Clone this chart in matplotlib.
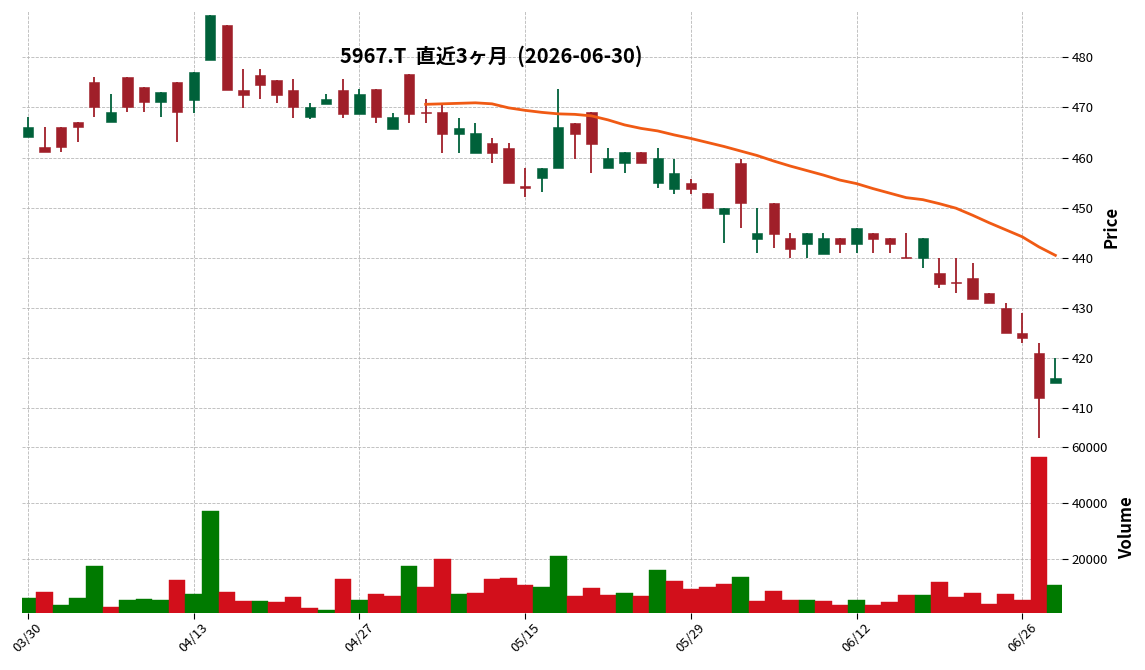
import matplotlib
matplotlib.use("Agg")
import matplotlib.pyplot as plt
import numpy as np

plt.rcParams['font.family'] = ['Noto Sans CJK JP', 'DejaVu Sans']

# ---- data ----
opens = [464, 462, 466, 467, 475, 467, 476, 474, 471, 475,
         471.5, 479.5, 486.5, 473.5, 476.5, 475.5, 473.5, 468, 470.7, 473.5,
         468.7, 473.6, 465.7, 476.6, 469, 469, 464.7, 460.8, 462.9, 461.9,
         454.2, 456, 458, 466.9, 469, 458, 459, 461, 455, 453.8,
         455, 453, 448.8, 458.9, 443.8, 451, 444, 442.8, 440.8, 444,
         442.8, 445, 444, 440.2, 440, 437, 435.2, 436, 433, 430,
         425, 421, 415]
highs = [468, 466, 466, 467, 476, 472.6, 476, 474, 473, 475,
         477, 488.5, 486.5, 477.6, 477.6, 475.5, 475.6, 470.8, 472.6, 475.6,
         473.6, 473.6, 468.8, 476.6, 471.6, 470.8, 467.8, 466.8, 463.8, 462.8,
         458, 458, 473.6, 466.9, 469, 461.8, 461, 461, 461.8, 459.8,
         455.8, 453, 450, 459.8, 449.9, 451, 444.9, 445, 444.9, 444,
         446, 445, 444, 444.9, 444, 440, 440, 439, 433, 431,
         429, 423, 420]
lows = [464, 461, 461, 463, 468, 467, 469, 469, 468, 463,
        468.8, 479.5, 473.5, 469.8, 471.6, 470.8, 467.8, 467.7, 470.7, 467.8,
        468.7, 466.8, 465.7, 466.8, 466.8, 460.8, 460.8, 460.8, 459, 455,
        452.1, 453.1, 458, 459.8, 457, 458, 457, 459, 454, 452.8,
        452.8, 450, 443, 445.9, 440.9, 441.9, 440, 440, 440.8, 440.9,
        440.9, 440.9, 440.9, 440, 438, 433.9, 433, 431.8, 431, 425,
        423, 404, 415]
closes = [466, 461, 462, 466, 470, 469, 470, 471, 473, 469,
          477, 488.5, 473.5, 472.5, 474.5, 472.5, 470, 470, 471.7, 468.7,
          472.6, 468, 468, 468.7, 468.8, 464.7, 465.9, 464.9, 460.8, 455,
          454, 458, 466, 464.7, 462.7, 460, 461, 459, 460, 456.9,
          453.8, 450, 450, 451, 445, 444.8, 441.8, 445, 444, 442.8,
          446, 443.8, 442.8, 440, 444, 434.8, 435, 431.8, 431, 425,
          424, 412, 416]
volumes = [6200, 8300, 3700, 6200, 17600, 3000, 5500, 5800, 5500, 12600,
           7600, 37100, 8300, 5100, 5100, 4700, 6500, 2600, 1900, 12900,
           5500, 7600, 6900, 17600, 10100, 20000, 7600, 7900, 12900, 13300,
           10800, 10100, 21100, 6900, 9700, 7200, 7900, 6900, 16100, 12200,
           9400, 10100, 11200, 13600, 5100, 8700, 5500, 5500, 5100, 3700,
           5500, 3700, 4700, 7200, 7200, 11900, 6500, 7900, 4000, 7600,
           5500, 56300, 10800]
# volume bar direction as drawn (G = up vs previous close, R = down)
vol_dir = list("GRGGGRGGGRGGRRGRRRGRGRRGRRGRRRRGG"
               "RRRGRGRRRR" "GRRRGRRGRR" "RGRRRRRRRG")
# 25-day moving average, visible from index 24
ma_start = 24
ma_values = [470.6, 470.7, 470.8, 470.9, 470.7, 469.9, 469.4, 469.0, 468.7, 468.6,
             468.3, 467.5, 466.5, 465.8, 465.3, 464.5, 463.8, 463.0, 462.2, 461.3,
             460.4, 459.3, 458.3, 457.4, 456.5, 455.5, 454.8, 453.8, 452.9, 452.0,
             451.6, 450.8, 449.9, 448.5, 447.0, 445.6, 444.2, 442.2, 440.5]
tick_idx = [0, 10, 20, 30, 40, 50, 60]
tick_labels = ["03/30", "04/13", "04/27", "05/15", "05/29", "06/12", "06/26"]
price_ticks = [410, 420, 430, 440, 450, 460, 470, 480]
volume_ticks = [20000, 40000, 60000]
title = "5967.T  直近3ヶ月  (2026-06-30)"

# ---- styling ----
UP = "#00613A"
DOWN = "#A01F29"
VUP = "#007A00"
VDOWN = "#D20F1B"
MA_COLOR = "#F05A14"
GRID = dict(color="#b8b8b8", linestyle="--", linewidth=0.6)

W, H = 1145, 670
fig = plt.figure(figsize=(W / 100, H / 100), dpi=100)
left, right = 22, 1062
ax = fig.add_axes([left / W, (H - 443) / H, (right - left) / W, (443 - 11) / H])
axv = fig.add_axes([left / W, (H - 613) / H, (right - left) / W, (613 - 443) / H], sharex=ax)

n = len(opens)
x = np.arange(n)
o = np.array(opens); c = np.array(closes); hi = np.array(highs); lo = np.array(lows)
up = c >= o
colors = np.where(up, UP, DOWN)

ax.vlines(x, lo, hi, colors=colors, linewidth=1.3, zorder=2)
body_h = np.maximum(np.abs(c - o), 0.25)
body_b = np.minimum(o, c)
ax.bar(x, body_h, bottom=body_b, width=0.62, color=colors, edgecolor=colors,
       linewidth=0.4, zorder=3)
ma_x = np.arange(ma_start, ma_start + len(ma_values))
ax.plot(ma_x, ma_values, color=MA_COLOR, linewidth=2.0, zorder=4)

vcolors = [VUP if d == "G" else VDOWN for d in vol_dir]
axv.bar(x, volumes, width=1.0, color=vcolors, edgecolor=vcolors, linewidth=0.3, zorder=2)

ax.set_xlim(-0.36, 62.4)
ax.set_ylim(403.1, 489.2)
axv.set_ylim(780, 61400)

for a in (ax, axv):
    for s in a.spines.values():
        s.set_visible(False)
    a.grid(True, **GRID)
    a.set_axisbelow(True)
    a.yaxis.tick_right()
    a.yaxis.set_label_position("right")
    a.tick_params(axis="y", direction="out", length=4, width=0.8, pad=3, labelsize=9.5)

ax.set_yticks(price_ticks)
axv.set_yticks(volume_ticks)
axv.set_xticks(tick_idx)
axv.set_xticklabels(tick_labels, rotation=45, ha="center", fontsize=9.5)
axv.tick_params(axis="x", direction="out", length=4, width=0.8, pad=2)
ax.tick_params(axis="x", length=0, labelbottom=False)

ax.set_ylabel("Price", fontsize=12, fontweight="bold")
ax.yaxis.set_label_coords(1.039, 0.5)
axv.set_ylabel("Volume", fontsize=12, fontweight="bold")
axv.yaxis.set_label_coords(1.054, 0.5)

fig.text(491 / W, (H - 56) / H, title, ha="center", va="center",
         fontsize=14.5, fontweight="bold")

fig.savefig("out.png", dpi=100)
